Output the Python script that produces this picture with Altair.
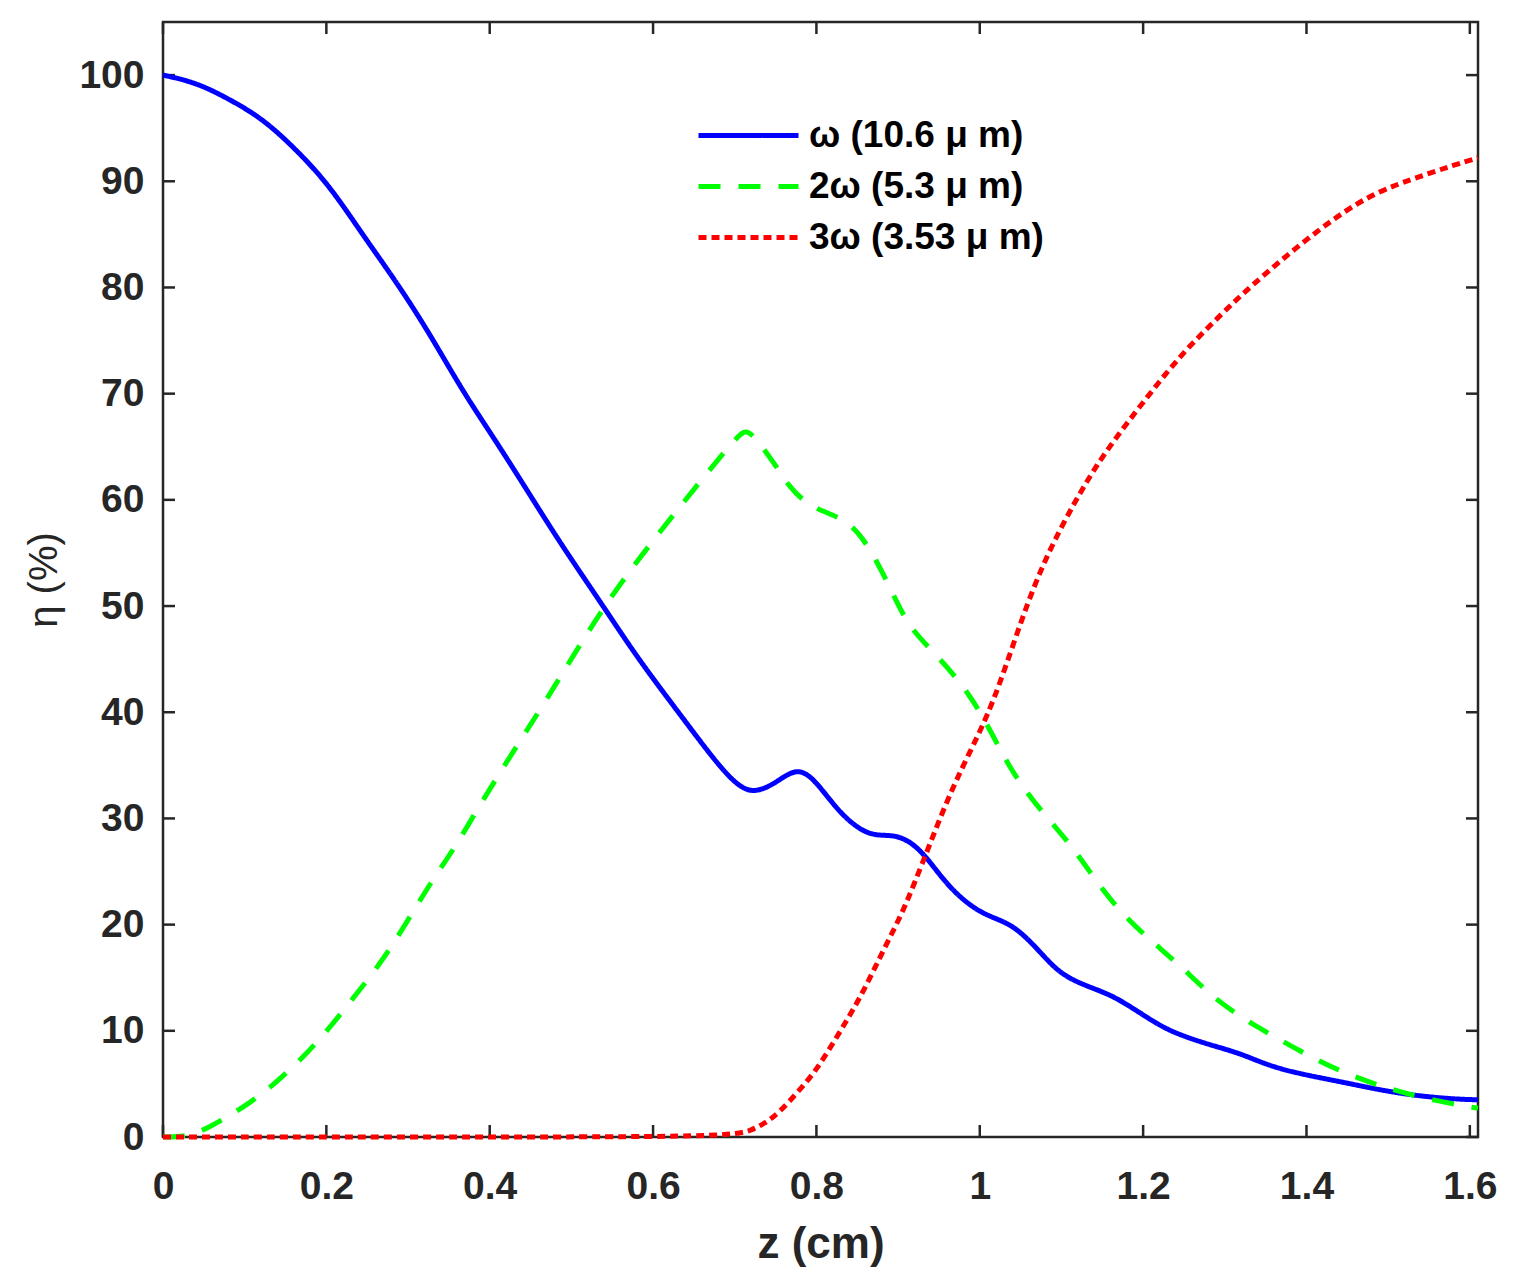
import altair as alt
import pandas as pd

# Conversion efficiency along the crystal, z in cm, eta in percent
z_w = [0, 0.041, 0.082, 0.122, 0.163, 0.204, 0.245, 0.286, 0.327, 0.367, 0.408,
       0.449, 0.49, 0.539, 0.58, 0.633, 0.673, 0.7, 0.722, 0.75, 0.777, 0.8,
       0.83, 0.866, 0.896, 0.927, 0.96, 1.0, 1.037, 1.065, 1.09, 1.11, 1.135,
       1.163, 1.192, 1.22, 1.245, 1.285, 1.318, 1.351, 1.388, 1.449, 1.51,
       1.572, 1.61]
eta_w = [100, 99.3, 97.7, 95.9, 93.0, 89.6, 84.9, 80.5, 75.6, 70.2, 65.5,
         60.5, 55.5, 50.0, 45.2, 39.8, 35.7, 33.3, 32.3, 33.3, 34.9, 33.5,
         30.3, 28.2, 28.6, 27.3, 23.6, 21.0, 20.2, 18.2, 16.0, 14.9, 14.1,
         13.3, 11.9, 10.5, 9.6, 8.6, 7.9, 6.8, 6.0, 5.1, 4.1,
         3.6, 3.5]

z_2w = [0, 0.03, 0.057, 0.108, 0.152, 0.194, 0.231, 0.266, 0.296, 0.328, 0.357,
        0.386, 0.414, 0.443, 0.469, 0.539, 0.596, 0.65, 0.706, 0.716, 0.731,
        0.755, 0.764, 0.792, 0.837, 0.866, 0.894, 0.914, 0.951, 0.988, 1.015,
        1.037, 1.067, 1.108, 1.138, 1.168, 1.206, 1.245, 1.291, 1.343, 1.394,
        1.443, 1.494, 1.545, 1.61]
eta_2w = [0, 0, 0.9, 3.2, 6.0, 9.3, 12.9, 16.3, 19.9, 24.0, 27.2,
          31.0, 34.5, 38.0, 41.1, 50.0, 55.8, 61.0, 66.3, 66.6, 65.3,
          62.7, 61.5, 59.2, 58.3, 55.5, 51.1, 47.9, 45.1, 41.7, 38.0,
          34.7, 31.4, 27.9, 24.6, 21.5, 18.7, 16.2, 12.7, 10.2, 8.0,
          6.1, 4.7, 3.6, 2.7]

z_3w = [0, 0.3, 0.6, 0.704, 0.722, 0.737, 0.753, 0.777, 0.8, 0.82, 0.839,
        0.856, 0.872, 0.888, 0.905, 0.919, 0.939, 0.96, 0.984, 1.016, 1.052,
        1.08, 1.116, 1.15, 1.208, 1.25, 1.3, 1.33, 1.4, 1.465, 1.51, 1.545,
        1.579, 1.61]
eta_3w = [0, 0, 0, 0.2, 0.7, 1.3, 2.2, 4.2, 6.3, 8.8, 11.2,
          13.5, 16.0, 18.5, 21.1, 23.7, 27.6, 31.7, 35.7, 40.6, 49.0,
          54.5, 59.8, 64.2, 70.0, 74.0, 77.8, 80.0, 84.6, 88.2, 89.7, 90.6,
          91.5, 92.2]

series_names = ["ω (10.6 μ m)", "2ω (5.3 μ m)", "3ω (3.53 μ m)"]
series_colors = ["#0000ff", "#00ff00", "#ff0000"]
series_dashes = [[1, 0], [22, 18], [8, 5]]

x_ticks = [0, 0.2, 0.4, 0.6, 0.8, 1.0, 1.2, 1.4, 1.6]
y_ticks = [0, 10, 20, 30, 40, 50, 60, 70, 80, 90, 100]

frames = []
for name, zs, vs in zip(series_names, [z_w, z_2w, z_3w], [eta_w, eta_2w, eta_3w]):
    frames.append(pd.DataFrame({"z": zs, "eta": vs, "series": name}))
curves = pd.concat(frames, ignore_index=True)

W, H = 1315, 1115
TICK = 12
INK = "#262626"
FONT = "Liberation Sans"

x_scale = alt.Scale(domain=[0, 1.61], nice=False, zero=False)
y_scale = alt.Scale(domain=[0, 105], nice=False, zero=False)

x_axis = alt.Axis(values=x_ticks, format="~g", title="z (cm)",
                  labelPadding=30, titlePadding=16, labelFlush=False,
                  titleFontSize=44, titleFontWeight="bold")
y_axis = alt.Axis(values=y_ticks, title="η (%)", labelPadding=19,
                  titlePadding=14, titleFontSize=40, labelFlush=False,
                  titleFontWeight="normal")

legend = alt.Legend(
    title=None, orient="none", legendX=567, legendY=95,
    symbolType="M-5,0H5", symbolSize=400, symbolStrokeWidth=5,
    labelFont=FONT, labelFontWeight="bold", labelFontSize=37,
    labelColor="black", labelOffset=42, rowPadding=13, padding=0,
    labelLimit=0,
)

lines = alt.Chart(curves).mark_line(
    strokeWidth=5, interpolate="basis", clip=False
).encode(
    x=alt.X("z:Q", scale=x_scale, axis=x_axis),
    y=alt.Y("eta:Q", scale=y_scale, axis=y_axis),
    color=alt.Color("series:N",
                    scale=alt.Scale(domain=series_names, range=series_colors),
                    legend=legend),
    strokeDash=alt.StrokeDash("series:N",
                              scale=alt.Scale(domain=series_names, range=series_dashes),
                              legend=legend),
)

# Inward tick marks on all four sides of the box
xt = pd.DataFrame({"v": x_ticks})
yt = pd.DataFrame({"v": y_ticks})
rule_style = dict(color=INK, strokeWidth=2.5)
x_enc = alt.X("v:Q", scale=x_scale, axis=x_axis)
y_enc = alt.Y("v:Q", scale=y_scale, axis=y_axis)

ticks_bottom = alt.Chart(xt).mark_rule(**rule_style).encode(
    x=x_enc, y=alt.value(H), y2=alt.value(H - TICK))
ticks_top = alt.Chart(xt).mark_rule(**rule_style).encode(
    x=x_enc, y=alt.value(0), y2=alt.value(TICK))
ticks_left = alt.Chart(yt).mark_rule(**rule_style).encode(
    y=y_enc, x=alt.value(0), x2=alt.value(TICK))
ticks_right = alt.Chart(yt).mark_rule(**rule_style).encode(
    y=y_enc, x=alt.value(W), x2=alt.value(W - TICK))

chart = alt.layer(
    ticks_bottom, ticks_top, ticks_left, ticks_right, lines
).properties(
    width=W, height=H,
    padding={"left": 163, "top": 22, "right": 41, "bottom": 150},
    autosize=alt.AutoSizeParams(type="none"),
    background="white",
).configure_view(
    stroke=INK, strokeWidth=2.5
).configure_axis(
    domain=False, ticks=False, grid=False,
    labelFont=FONT, labelFontSize=39, labelFontWeight="bold", labelColor=INK,
    titleFont=FONT, titleColor=INK,
)

chart.save("out.html", embed_options={"renderer": "svg", "actions": False})
